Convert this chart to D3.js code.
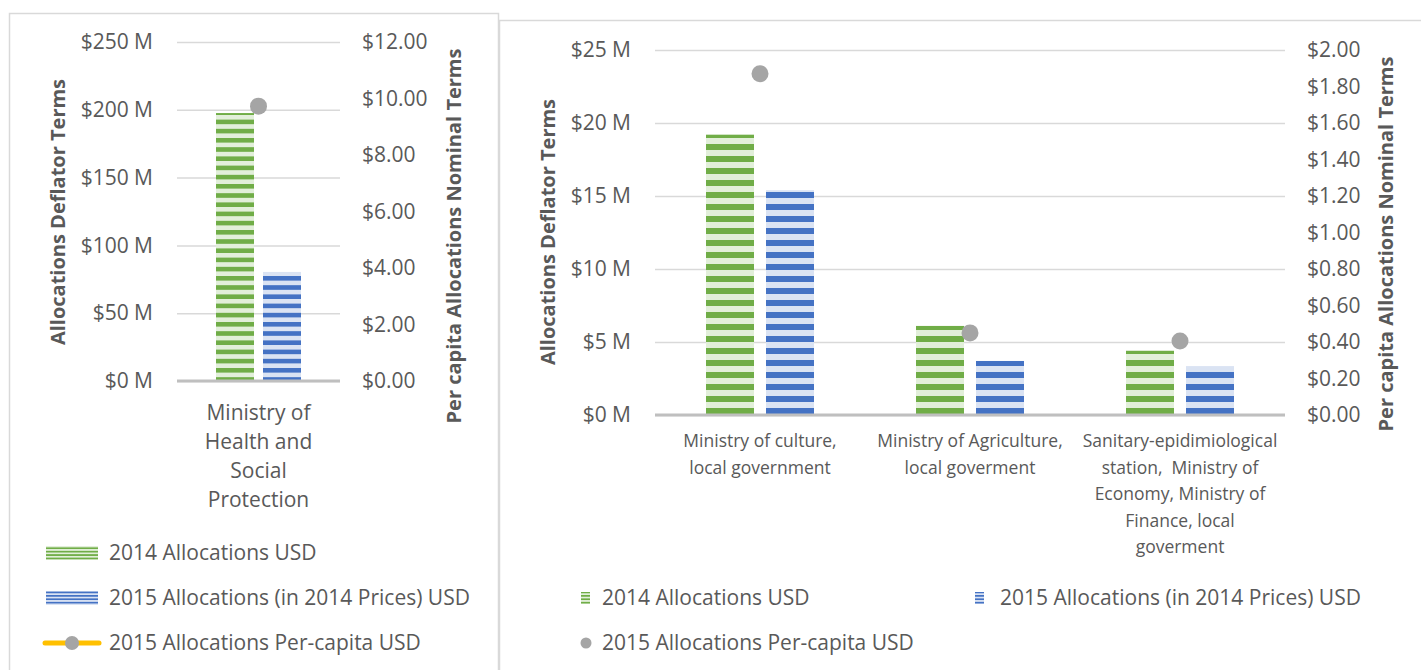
<!DOCTYPE html>
<html>
<head>
<meta charset="utf-8">
<script src="https://cdn.jsdelivr.net/npm/d3@7"></script>
<style>
body { margin: 0; background: #fff; }
svg { display: block; font-family: "Open Sans", "DejaVu Sans", sans-serif; }
</style>
</head>
<body>
<svg id="chart" width="1421" height="670"></svg>
<script>
// ---- left panel data ----
var leftCategories = ["Ministry of Health and Social Protection"];
var leftLabelLines = [["Ministry of", "Health and", "Social", "Protection"]];
var leftAlloc2014 = [197.6e6];
var leftAlloc2015 = [80.4e6];
var leftPerCapita = [9.73];
var leftTicks = [0, 50e6, 100e6, 150e6, 200e6, 250e6];
var leftTicks2 = [0, 2, 4, 6, 8, 10, 12];

// ---- right panel data ----
var rightCategories = ["Ministry of culture, local government",
    "Ministry of Agriculture, local goverment",
    "Sanitary-epidimiological station, Ministry of Economy, Ministry of Finance, local goverment"];
var rightLabelLines = [["Ministry of culture,", "local government"],
    ["Ministry of Agriculture,", "local goverment"],
    ["Sanitary-epidimiological", "station,  Ministry of", "Economy, Ministry of", "Finance, local", "goverment"]];
var rightAlloc2014 = [19.2e6, 6.1e6, 4.4e6];
var rightAlloc2015 = [15.4e6, 3.7e6, 3.35e6];
var rightPerCapita = [1.87, 0.45, 0.405];
var rightTicks = [0, 5e6, 10e6, 15e6, 20e6, 25e6];
var rightTicks2 = [0, 0.2, 0.4, 0.6, 0.8, 1.0, 1.2, 1.4, 1.6, 1.8, 2.0];

var seriesNames = ["2014 Allocations USD", "2015 Allocations (in 2014 Prices) USD", "2015 Allocations Per-capita USD"];

var textColor = "#595959";
var green = "#70AD47", greenLight = "#E2EFDA";
var blue = "#4472C4", blueLight = "#DAE3F3";
var dotColor = "#A5A5A5";

var svg = d3.select("#chart");
var defs = svg.append("defs");

// horizontal stripe fills
function stripes(id, dark, light, period) {
    var p = defs.append("pattern")
        .attr("id", id)
        .attr("patternUnits", "userSpaceOnUse")
        .attr("width", 10)
        .attr("height", period);
    p.append("rect").attr("width", 10).attr("height", period).attr("fill", light);
    p.append("rect").attr("width", 10).attr("height", period / 2).attr("fill", dark);
}
stripes("gL", green, greenLight, 9.2);
stripes("bL", blue, blueLight, 9.2);
stripes("gR", green, greenLight, 12);
stripes("bR", blue, blueLight, 12);
stripes("gS", green, greenLight, 3.4);
stripes("bS", blue, blueLight, 3.4);

// panel frames
svg.append("rect").attr("x", 9.5).attr("y", 13.5).attr("width", 489).attr("height", 700)
    .attr("fill", "none").attr("stroke", "#D9D9D9").attr("stroke-width", 1.5);
svg.append("rect").attr("x", 499.5).attr("y", 20.5).attr("width", 940).attr("height", 700)
    .attr("fill", "none").attr("stroke", "#D9D9D9").attr("stroke-width", 1.5);

function drawChart(o) {
    var g = svg.append("g");
    var x = d3.scaleBand().domain(o.categories).range([o.left, o.right]);
    var y = d3.scaleLinear().domain([0, d3.max(o.ticks)]).range([o.bottom, o.top]);
    var y2 = d3.scaleLinear().domain([0, d3.max(o.ticks2)]).range([o.bottom, o.top]);

    // gridlines
    var grid = g.append("g")
        .attr("transform", "translate(" + o.left + ",0)")
        .call(d3.axisLeft(y).tickValues(o.ticks).tickSize(-(o.right - o.left)).tickFormat(""));
    grid.select(".domain").remove();
    grid.selectAll("line").attr("stroke", "#D9D9D9").attr("stroke-width", 1.5);

    // left tick labels
    var ax = g.append("g")
        .attr("transform", "translate(" + o.left + ",0)")
        .call(d3.axisLeft(y).tickValues(o.ticks).tickSize(0).tickPadding(24)
            .tickFormat(function(d) { return "$" + (d / 1e6) + " M"; }));
    ax.select(".domain").remove();
    ax.attr("font-size", null).attr("font-family", null);
    ax.selectAll("text").attr("fill", textColor).style("font-size", o.tickSize + "px");

    // right tick labels
    var ax2 = g.append("g")
        .attr("transform", "translate(" + o.right + ",0)")
        .call(d3.axisRight(y2).tickValues(o.ticks2).tickSize(0).tickPadding(22)
            .tickFormat(function(d) { return "$" + d.toFixed(2); }));
    ax2.select(".domain").remove();
    ax2.attr("font-size", null).attr("font-family", null);
    ax2.selectAll("text").attr("fill", textColor).style("font-size", o.tickSize + "px");

    // bars
    var groupW = o.barW * 2 + o.gap;
    function barX(c, i) {
        return x(c) + (x.bandwidth() - groupW) / 2 + i * (o.barW + o.gap);
    }
    g.selectAll(".b14").data(o.a14).enter().append("rect")
        .attr("x", function(d, i) { return barX(o.categories[i], 0); })
        .attr("y", function(d) { return y(d); })
        .attr("width", o.barW)
        .attr("height", function(d) { return y(0) - y(d); })
        .attr("fill", "url(#" + o.fill14 + ")");
    g.selectAll(".b15").data(o.a15).enter().append("rect")
        .attr("x", function(d, i) { return barX(o.categories[i], 1); })
        .attr("y", function(d) { return y(d); })
        .attr("width", o.barW)
        .attr("height", function(d) { return y(0) - y(d); })
        .attr("fill", "url(#" + o.fill15 + ")");

    // zero line
    g.append("line")
        .attr("x1", o.left).attr("x2", o.right)
        .attr("y1", y(0)).attr("y2", y(0))
        .attr("stroke", "#BFBFBF").attr("stroke-width", 3);

    // per-capita dots
    g.selectAll(".dot").data(o.pc).enter().append("circle")
        .attr("cx", function(d, i) { return x(o.categories[i]) + x.bandwidth() / 2; })
        .attr("cy", function(d) { return y2(d); })
        .attr("r", 8.5)
        .attr("fill", dotColor);

    // category labels
    o.categories.forEach(function(c, i) {
        var t = g.append("text")
            .attr("text-anchor", "middle")
            .attr("fill", textColor)
            .style("font-size", o.labelSize + "px")
            .attr("xml:space", "preserve");
        o.lines[i].forEach(function(line, j) {
            t.append("tspan")
                .attr("x", x(c) + x.bandwidth() / 2)
                .attr("y", o.labelY + j * o.lineH)
                .attr("dy", "0.35em")
                .text(line);
        });
    });

    // axis titles
    g.append("text")
        .attr("transform", "translate(" + o.title1[0] + "," + o.title1[1] + ") rotate(-90)")
        .attr("text-anchor", "middle").attr("dy", "0.35em")
        .attr("fill", textColor).attr("font-weight", "bold")
        .style("font-size", o.titleSize + "px")
        .text("Allocations Deflator Terms");
    g.append("text")
        .attr("transform", "translate(" + o.title2[0] + "," + o.title2[1] + ") rotate(-90)")
        .attr("text-anchor", "middle").attr("dy", "0.35em")
        .attr("fill", textColor).attr("font-weight", "bold")
        .style("font-size", o.titleSize + "px")
        .text("Per capita Allocations Nominal Terms");
}

drawChart({
    categories: leftCategories, lines: leftLabelLines,
    a14: leftAlloc2014, a15: leftAlloc2015, pc: leftPerCapita,
    ticks: leftTicks, ticks2: leftTicks2,
    left: 177, right: 340, top: 42, bottom: 381,
    barW: 38, gap: 9, fill14: "gL", fill15: "bL",
    tickSize: 21, labelSize: 21, labelY: 413, lineH: 29,
    titleSize: 20, title1: [58, 212], title2: [454, 236]
});

drawChart({
    categories: rightCategories, lines: rightLabelLines,
    a14: rightAlloc2014, a15: rightAlloc2015, pc: rightPerCapita,
    ticks: rightTicks, ticks2: rightTicks2,
    left: 655, right: 1285, top: 50, bottom: 415,
    barW: 48, gap: 12, fill14: "gR", fill15: "bR",
    tickSize: 21, labelSize: 17.5, labelY: 441, lineH: 26.5,
    titleSize: 20, title1: [548, 232], title2: [1386, 244]
});

// ---- legends ----
var legL = svg.append("g");
var legRowsL = [553, 598, 643];
legL.selectAll("text").data(seriesNames).enter().append("text")
    .attr("x", 109).attr("y", function(d, i) { return legRowsL[i]; })
    .attr("dy", "0.35em").attr("fill", textColor).style("font-size", "21px")
    .text(function(d) { return d; });
legL.append("rect").attr("x", 46).attr("y", legRowsL[0] - 7).attr("width", 52).attr("height", 14).attr("fill", "url(#gS)");
legL.append("rect").attr("x", 46).attr("y", legRowsL[1] - 7).attr("width", 52).attr("height", 14).attr("fill", "url(#bS)");
legL.append("line").attr("x1", 45).attr("x2", 99).attr("y1", legRowsL[2]).attr("y2", legRowsL[2])
    .attr("stroke", "#FFC000").attr("stroke-width", 5).attr("stroke-linecap", "round");
legL.append("circle").attr("cx", 72).attr("cy", legRowsL[2]).attr("r", 7).attr("fill", dotColor);

var legR = svg.append("g");
var legPosR = [[602, 598], [1000, 598], [602, 643]];
legR.selectAll("text").data(seriesNames).enter().append("text")
    .attr("x", function(d, i) { return legPosR[i][0]; })
    .attr("y", function(d, i) { return legPosR[i][1]; })
    .attr("dy", "0.35em").attr("fill", textColor).style("font-size", "21px")
    .text(function(d) { return d; });
legR.append("rect").attr("x", 581).attr("y", 592).attr("width", 9).attr("height", 12).attr("fill", "url(#gS)");
legR.append("rect").attr("x", 975).attr("y", 592).attr("width", 9).attr("height", 12).attr("fill", "url(#bS)");
legR.append("circle").attr("cx", 586).attr("cy", 643).attr("r", 5.5).attr("fill", dotColor);
</script>
</body>
</html>
